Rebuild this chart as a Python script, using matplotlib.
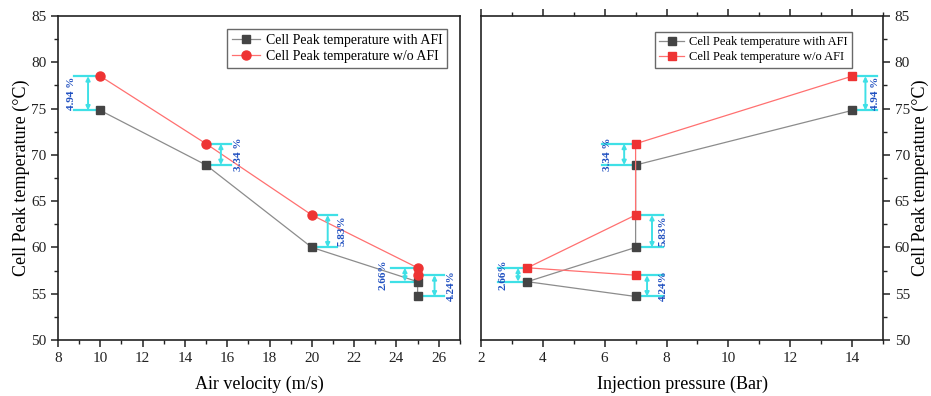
import matplotlib
matplotlib.use("Agg")
import matplotlib.pyplot as plt
from matplotlib.ticker import MultipleLocator

plt.rcParams["font.family"] = ["Liberation Serif", "DejaVu Serif"]
plt.rcParams["mathtext.fontset"] = "stix"

# peak cell temperatures (deg C)
air_velocity = [10, 15, 20, 25, 25]
inj_pressure = [14, 7, 7, 3.5, 7]
temp_with_afi = [74.8, 68.9, 60.0, 56.3, 54.7]
temp_wo_afi = [78.5, 71.2, 63.5, 57.8, 57.0]
pct_labels = ["4.94 %", "3.34 %", "5.83%", "2.66%", "4.24%"]

# bracket layout per point: cap start, cap end, arrow x, label x
left_brackets = [(8.75, 10.0, 9.42, 8.62), (15.0, 16.2, 15.7, 16.55),
                 (20.0, 21.2, 20.75, 21.45), (23.75, 25.0, 24.4, 23.35),
                 (25.0, 26.25, 25.8, 26.6)]
right_brackets = [(14.0, 14.8, 14.43, 14.74), (5.92, 7.0, 6.63, 6.1),
                  (7.0, 7.9, 7.53, 7.9), (2.55, 3.5, 3.2, 2.7),
                  (7.0, 7.9, 7.37, 7.9)]

CYAN = "#3fe0e6"
LBL = "#1f4fc0"


def brackets(ax, layout):
    for (x0, x1, xa, xt), hi, lo, s in zip(layout, temp_wo_afi, temp_with_afi, pct_labels):
        ax.plot([x0, x1], [hi, hi], color=CYAN, lw=1.6, zorder=2)
        ax.plot([x0, x1], [lo, lo], color=CYAN, lw=1.6, zorder=2)
        ax.annotate("", xy=(xa, hi), xytext=(xa, lo),
                    arrowprops=dict(arrowstyle="<|-|>", color=CYAN, lw=1.4,
                                    mutation_scale=6, shrinkA=0, shrinkB=0))
        ax.text(xt, (hi + lo) / 2, s, rotation=90, ha="center", va="center",
                color=LBL, fontsize=8, fontweight="bold")


def style(ax, xlim, side):
    ax.set_ylim(50, 85)
    ax.set_xlim(*xlim)
    ax.xaxis.set_major_locator(MultipleLocator(2))
    ax.xaxis.set_minor_locator(MultipleLocator(1))
    ax.yaxis.set_major_locator(MultipleLocator(5))
    ax.yaxis.set_minor_locator(MultipleLocator(2.5))
    for sp in ax.spines.values():
        sp.set_linewidth(1.2)
        sp.set_color("#222222")
    ax.tick_params(which="both", direction="out", labelsize=11, colors="#222222")
    ax.tick_params(which="major", length=5, width=1.1)
    ax.tick_params(which="minor", length=3, width=1.0)
    if side == "left":
        ax.tick_params(which="both", top=False, right=False)
    else:
        ax.yaxis.tick_right()
        ax.yaxis.set_label_position("right")
        ax.tick_params(which="both", top=True, left=False, right=True)
    ax.set_ylabel("Cell Peak temperature (°C)", fontsize=13, rotation=90, labelpad=1)


fig = plt.figure(figsize=(9.31, 3.96), dpi=100)
ax1 = fig.add_axes([0.0623, 0.1414, 0.4317, 0.8182])
ax2 = fig.add_axes([0.5166, 0.1414, 0.4319, 0.8182])

# air velocity panel
ax1.plot(air_velocity, temp_with_afi, color="#8c8c8c", lw=0.9, marker="s", ms=6,
         mfc="#444444", mec="#444444", label="Cell Peak temperature with AFI", zorder=3)
ax1.plot(air_velocity, temp_wo_afi, color="#ff7070", lw=0.9, marker="o", ms=6.5,
         mfc="#ee3333", mec="#ee3333", label="Cell Peak temperature w/o AFI", zorder=3)
brackets(ax1, left_brackets)
style(ax1, (8, 27), "left")
ax1.set_xlabel("Air velocity (m/s)", fontsize=13, labelpad=8)
ax1.legend(loc="upper right", bbox_to_anchor=(0.968, 0.96), borderaxespad=0,
           fontsize=10, frameon=True, fancybox=False, edgecolor="#444444",
           borderpad=0.35, handlelength=2.0, handletextpad=0.4, labelspacing=0.25)

# injection pressure panel
ax2.plot(inj_pressure, temp_with_afi, color="#8c8c8c", lw=0.9, marker="s", ms=5.5,
         mfc="#444444", mec="#444444", label="Cell Peak temperature with AFI", zorder=3)
ax2.plot(inj_pressure, temp_wo_afi, color="#ff7070", lw=0.9, marker="s", ms=5.5,
         mfc="#ee3333", mec="#ee3333", label="Cell Peak temperature w/o AFI", zorder=3)
brackets(ax2, right_brackets)
style(ax2, (2, 15), "right")
ax2.set_xlabel("Injection pressure (Bar)", fontsize=13, labelpad=8)
ax2.legend(loc="upper right", bbox_to_anchor=(0.923, 0.951), borderaxespad=0,
           fontsize=9, frameon=True, fancybox=False, edgecolor="#444444",
           borderpad=0.35, handlelength=2.0, handletextpad=0.4, labelspacing=0.25)

fig.savefig("out.png", dpi=100)
